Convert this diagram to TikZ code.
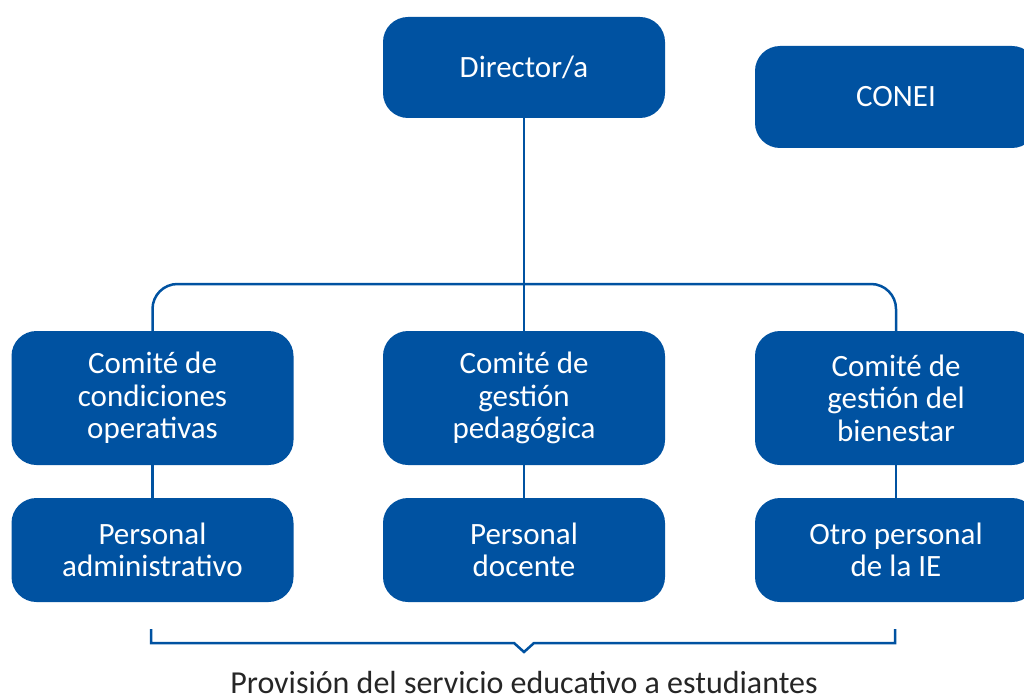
\documentclass[tikz,border=0pt]{standalone}
\usepackage{fontspec}
\setmainfont{Carlito}
\definecolor{ieblue}{HTML}{0052A1}
\definecolor{capgray}{HTML}{262626}
\tikzset{
  orgbox/.style={fill=ieblue, text=white, rounded corners=25pt, align=center,
    minimum width=282pt, font=\fontsize{31}{32.5}\selectfont, inner sep=0pt},
  link/.style={draw=ieblue, line width=2.5pt, rounded corners=25pt}
}
\begin{document}
\begin{tikzpicture}[x=1pt,y=-1pt]
\useasboundingbox (0,0) rectangle (1024,695);
% Top level
\node[orgbox, minimum height=101pt] (dir) at (524,67.5) {Director/a};
\node[orgbox, minimum height=102pt] (conei) at (896,97) {CONEI};

% Committees
\node[orgbox, minimum height=134pt] (cco) at (152.5,398) {Comité de\\condiciones\\operativas};
\node[orgbox, minimum height=134pt] (cgp) at (524,398) {Comité de\\gestión\\pedagógica};
\node[orgbox, minimum height=134pt] (cgb) at (896,398) {Comité de\\gestión del\\bienestar};

% Staff
\node[orgbox, minimum height=104pt] (padm) at (152.5,550) {Personal\\administrativo};
\node[orgbox, minimum height=104pt] (pdoc) at (524,550) {Personal\\docente};
\node[orgbox, minimum height=104pt] (potr) at (896,550) {Otro personal\\de la IE};

% Connectors
\coordinate (bus) at (524,284);
\draw[link] (dir.south) -- (bus);
\draw[link] (cco.north) |- (bus) -| (cgb.north);
\draw[link] (cgp.north) -- (bus);
\draw[link] (cco.south) -- (padm.north);
\draw[link] (cgp.south) -- (pdoc.north);
\draw[link] (cgb.south) -- (potr.north);

% Brace
\coordinate (bl) at (151,629);
\coordinate (br) at (895,629);
\draw[draw=ieblue, line width=2.5pt] (bl) -- (151,643) -- (514,643) -- (524,652)
  -- (534,643) -- (895,643) -- (br);
\node[text=capgray, font=\fontsize{32}{34}\selectfont, anchor=base, inner sep=0pt]
  (prov) at (524,693) {Provisión del servicio educativo a estudiantes};
\end{tikzpicture}
\end{document}
